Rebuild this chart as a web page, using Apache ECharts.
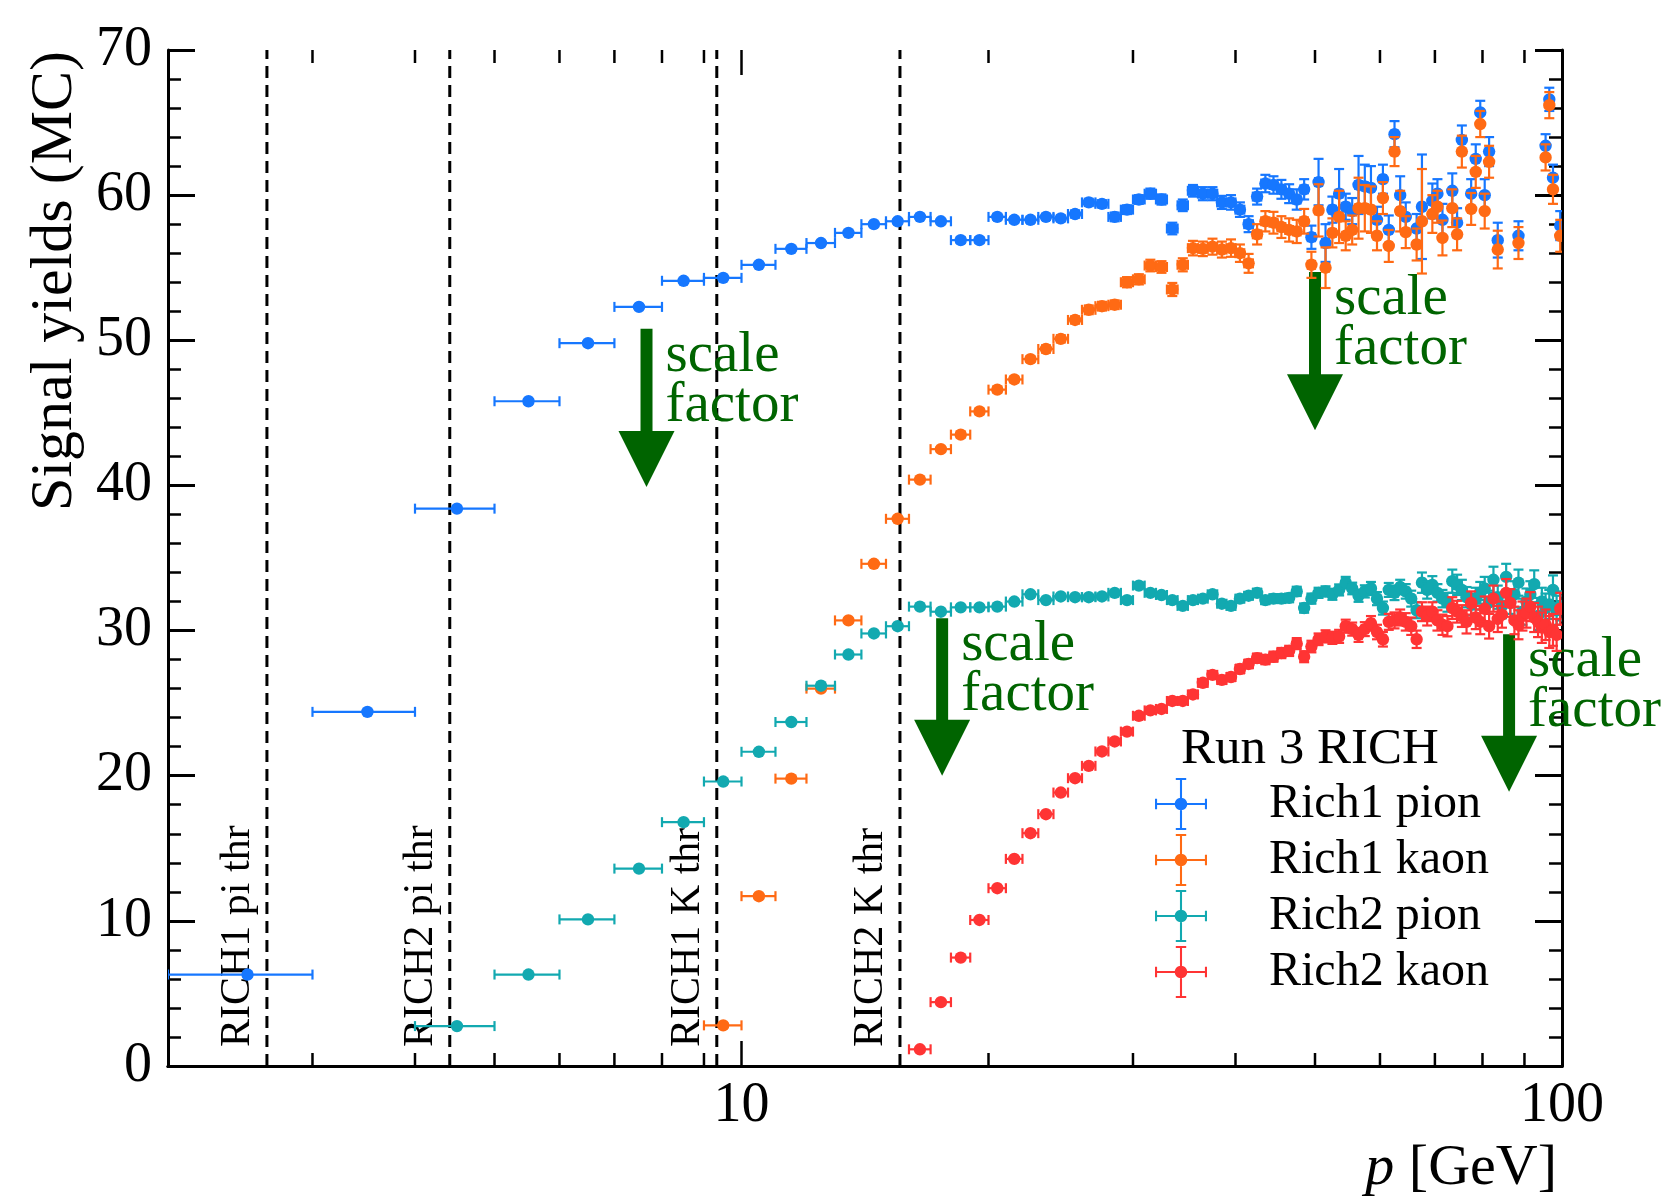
<!DOCTYPE html>
<html>
<head>
<meta charset="utf-8">
<title>Signal yields vs p</title>
<script src="https://cdn.jsdelivr.net/npm/echarts@6/dist/echarts.min.js"></script>
<style>
html, body { margin: 0; padding: 0; background: #fff; }
#main { width: 1666px; height: 1197px; }
</style>
</head>
<body>
<div id="main"></div>
<script>
const FONT = '"Liberation Serif", "DejaVu Serif", serif';
const GREEN = '#006400';
const binHalf = 0.5; // bins are 1 GeV wide

// [p centre, yield, error]
const rich1Pion = [[2.5,6.3,0.15],[3.5,24.4,0.15],[4.5,38.4,0.15],[5.5,45.8,0.15],[6.5,49.8,0.15],[7.5,52.3,0.15],[8.5,54.1,0.15],[9.5,54.3,0.15],[10.5,55.2,0.15],[11.5,56.3,0.15],[12.5,56.7,0.15],[13.5,57.4,0.15],[14.5,58.0,0.15],[15.5,58.2,0.15],[16.5,58.5,0.15],[17.5,58.2,0.15],[18.5,56.9,0.2],[19.5,56.9,0.2],[20.5,58.5,0.2],[21.5,58.3,0.2],[22.5,58.3,0.2],[23.5,58.5,0.2],[24.5,58.4,0.2],[25.5,58.7,0.25],[26.5,59.5,0.25],[27.5,59.4,0.25],[28.5,58.5,0.3],[29.5,59.0,0.3],[30.5,59.7,0.3],[31.5,60.1,0.35],[32.5,59.7,0.35],[33.5,57.7,0.4],[34.5,59.3,0.4],[35.5,60.3,0.4],[36.5,60.1,0.45],[37.5,60.1,0.45],[38.5,59.5,0.45],[39.5,59.5,0.5],[40.5,59.0,0.5],[41.5,58.0,0.55],[42.5,59.9,0.55],[43.5,60.8,0.6],[44.5,60.7,0.6],[45.5,60.4,0.65],[46.5,60.1,0.65],[47.5,59.7,0.7],[48.5,60.4,0.7],[49.5,57.1,0.8],[50.5,60.9,1.6],[51.5,56.7,1.3],[52.5,59.0,0.9],[53.5,60.1,1.7],[54.5,59.2,0.9],[55.5,58.9,0.9],[56.5,60.7,2.0],[57.5,60.6,1.5],[58.5,60.5,1.5],[59.5,58.3,0.9],[60.5,61.1,1.0],[61.5,57.6,1.0],[62.5,64.2,0.9],[63.5,60.0,1.3],[64.5,58.5,1.0],[66.5,57.7,1.0],[67.5,59.2,3.6],[69.5,59.6,1.2],[70.5,60.1,1.0],[71.5,58.3,1.1],[73.5,60.3,1.2],[74.5,58.1,1.0],[75.5,63.8,1.0],[77.5,60.1,1.0],[78.5,62.5,1.0],[79.5,65.7,0.8],[80.5,60.0,1.1],[81.5,63.0,1.0],[83.5,56.9,1.2],[88.5,57.2,1.0],[95.5,63.4,0.8],[96.5,66.6,0.8],[97.5,61.2,0.9],[99.5,57.9,1.0]];

const rich1Kaon = [[9.5,2.8,0.15],[10.5,11.7,0.15],[11.5,19.8,0.15],[12.5,26.0,0.15],[13.5,30.7,0.15],[14.5,34.6,0.15],[15.5,37.7,0.15],[16.5,40.4,0.15],[17.5,42.5,0.15],[18.5,43.5,0.2],[19.5,45.1,0.2],[20.5,46.6,0.2],[21.5,47.3,0.2],[22.5,48.7,0.2],[23.5,49.4,0.25],[24.5,50.1,0.25],[25.5,51.4,0.25],[26.5,52.1,0.3],[27.5,52.35,0.3],[28.5,52.45,0.3],[29.5,54.0,0.35],[30.5,54.2,0.35],[31.5,55.15,0.4],[32.5,55.05,0.4],[33.5,53.5,0.45],[34.5,55.2,0.45],[35.5,56.35,0.5],[36.5,56.3,0.5],[37.5,56.45,0.55],[38.5,56.25,0.55],[39.5,56.35,0.6],[40.5,56.0,0.6],[41.5,55.3,0.65],[42.5,57.3,0.7],[43.5,58.2,0.7],[44.5,58.1,0.75],[45.5,57.8,0.75],[46.5,57.6,0.8],[47.5,57.5,0.8],[48.5,58.2,0.85],[49.5,55.2,0.9],[50.5,58.95,1.8],[51.5,55.0,1.4],[52.5,57.4,1.0],[53.5,58.5,1.8],[54.5,57.2,1.0],[55.5,57.6,1.0],[56.5,59.1,2.1],[57.5,59.1,1.6],[58.5,59.0,1.6],[59.5,57.2,1.0],[60.5,59.8,1.1],[61.5,56.5,1.1],[62.5,63.0,1.0],[63.5,58.9,1.4],[64.5,57.45,1.1],[66.5,56.6,1.1],[67.5,58.2,3.6],[69.5,58.7,1.3],[70.5,59.2,1.1],[71.5,57.05,1.2],[73.5,59.1,1.3],[74.5,57.3,1.1],[75.5,63.0,1.1],[77.5,59.05,1.1],[78.5,61.6,1.1],[79.5,64.9,0.9],[80.5,58.9,1.2],[81.5,62.3,1.1],[83.5,56.25,1.3],[88.5,56.7,1.1],[95.5,62.6,0.9],[96.5,66.2,0.9],[97.5,60.4,1.0],[99.5,57.2,1.1]];

const rich2Pion = [[4.5,2.75,0.1],[5.5,6.3,0.1],[6.5,10.1,0.1],[7.5,13.6,0.1],[8.5,16.8,0.1],[9.5,19.6,0.1],[10.5,21.65,0.1],[11.5,23.7,0.1],[12.5,26.2,0.1],[13.5,28.35,0.1],[14.5,29.8,0.1],[15.5,30.3,0.1],[16.5,31.65,0.1],[17.5,31.3,0.1],[18.5,31.6,0.12],[19.5,31.6,0.12],[20.5,31.65,0.12],[21.5,32.0,0.12],[22.5,32.5,0.12],[23.5,32.1,0.12],[24.5,32.35,0.15],[25.5,32.3,0.15],[26.5,32.3,0.15],[27.5,32.35,0.15],[28.5,32.6,0.15],[29.5,32.1,0.18],[30.5,33.1,0.18],[31.5,32.6,0.18],[32.5,32.45,0.2],[33.5,32.1,0.2],[34.5,31.7,0.2],[35.5,32.1,0.2],[36.5,32.2,0.22],[37.5,32.5,0.22],[38.5,31.85,0.22],[39.5,31.7,0.25],[40.5,32.2,0.25],[41.5,32.4,0.25],[42.5,32.6,0.28],[43.5,32.1,0.28],[44.5,32.2,0.3],[45.5,32.2,0.3],[46.5,32.25,0.3],[47.5,32.7,0.32],[48.5,31.55,0.32],[49.5,32.2,0.35],[50.5,32.6,0.35],[51.5,32.7,0.35],[52.5,32.5,0.38],[53.5,32.8,0.38],[54.5,33.3,0.4],[55.5,32.9,0.4],[56.5,32.4,0.42],[57.5,32.7,0.42],[58.5,32.9,0.45],[59.5,32.2,0.45],[60.5,31.55,0.45],[61.5,32.8,0.48],[62.5,32.6,0.5],[63.5,33.0,0.5],[64.5,32.7,0.5],[65.5,32.2,0.55],[66.5,31.4,0.55],[67.5,33.3,0.7],[68.5,32.8,0.6],[69.5,33.15,0.6],[70.5,32.6,0.6],[71.5,32.2,0.6],[72.5,31.95,0.65],[73.5,33.4,0.8],[74.5,33.15,0.7],[75.5,32.8,0.7],[76.5,32.3,0.7],[77.5,31.8,0.75],[78.5,32.2,0.75],[79.5,32.6,0.75],[80.5,32.9,0.8],[81.5,31.95,0.8],[82.5,33.5,0.9],[83.5,32.3,0.8],[84.5,31.7,0.85],[85.5,33.7,0.9],[86.5,32.0,0.85],[87.5,32.5,0.9],[88.5,33.3,0.9],[89.5,31.3,0.9],[90.5,32.0,0.9],[91.5,32.5,0.9],[92.5,33.2,0.95],[93.5,31.0,0.95],[94.5,32.0,0.95],[95.5,31.55,1.0],[96.5,31.8,1.0],[97.5,32.8,1.0],[98.5,31.4,1.0],[99.5,31.7,1.0]];

const rich2Kaon = [[16.5,1.15,0.1],[17.5,4.4,0.1],[18.5,7.47,0.1],[19.5,10.06,0.1],[20.5,12.25,0.1],[21.5,14.27,0.1],[22.5,16.04,0.12],[23.5,17.35,0.12],[24.5,18.84,0.12],[25.5,19.83,0.15],[26.5,20.68,0.15],[27.5,21.67,0.15],[28.5,22.36,0.18],[29.5,23.04,0.18],[30.5,24.13,0.2],[31.5,24.5,0.2],[32.5,24.6,0.2],[33.5,25.15,0.22],[34.5,25.15,0.22],[35.5,25.6,0.25],[36.5,26.4,0.25],[37.5,26.95,0.25],[38.5,26.6,0.28],[39.5,26.8,0.28],[40.5,27.35,0.3],[41.5,27.7,0.3],[42.5,28.1,0.32],[43.5,28.0,0.32],[44.5,28.2,0.35],[45.5,28.45,0.35],[46.5,28.6,0.35],[47.5,29.1,0.38],[48.5,28.2,0.38],[49.5,28.9,0.4],[50.5,29.4,0.4],[51.5,29.6,0.42],[52.5,29.5,0.42],[53.5,29.6,0.45],[54.5,30.3,0.45],[55.5,30.1,0.45],[56.5,29.7,0.48],[57.5,30.1,0.48],[58.5,30.5,0.5],[59.5,29.9,0.5],[60.5,29.4,0.5],[61.5,30.6,0.55],[62.5,30.7,0.55],[63.5,30.9,0.55],[64.5,30.6,0.6],[65.5,30.3,0.6],[66.5,29.4,0.6],[67.5,31.3,0.65],[68.5,31.0,0.65],[69.5,31.3,0.65],[70.5,30.7,0.7],[71.5,30.4,0.7],[72.5,30.3,0.7],[73.5,31.55,0.75],[74.5,31.3,0.75],[75.5,31.0,0.75],[76.5,30.6,0.8],[77.5,31.9,0.8],[78.5,30.9,0.8],[79.5,30.6,0.85],[80.5,31.5,0.85],[81.5,30.3,0.85],[82.5,32.2,0.9],[83.5,30.8,0.9],[84.5,31.1,0.9],[85.5,32.6,0.95],[86.5,31.9,0.95],[87.5,30.7,0.95],[88.5,30.4,1.0],[89.5,31.0,1.0],[90.5,31.2,1.0],[91.5,31.65,1.0],[92.5,30.9,1.0],[93.5,30.6,1.05],[94.5,30.2,1.05],[95.5,30.4,1.05],[96.5,29.9,1.1],[97.5,30.05,1.1],[98.5,29.7,1.1],[99.5,31.5,1.1]];

const seriesNames = ['Rich1 pion', 'Rich1 kaon', 'Rich2 pion', 'Rich2 kaon'];
const seriesColors = ['#1677ff', '#ff6a14', '#12a9b0', '#ff3434'];
const seriesData = [rich1Pion, rich1Kaon, rich2Pion, rich2Kaon];

// threshold lines
const thrP = [2.64, 4.41, 9.33, 15.6];
const thrLabels = ['RICH1 pi thr', 'RICH2 pi thr', 'RICH1 K thr', 'RICH2 K thr'];

// "scale factor" arrows: x position, top and tip (in yield units)
const arrowP = [7.66, 50.0, 17.56, 86.2];
const arrowTop = [50.8, 54.7, 30.85, 29.75];
const arrowTip = [39.9, 43.8, 20.0, 18.9];

const xMinorTicks = [3, 4, 5, 6, 7, 8, 9, 20, 30, 40, 50, 60, 70, 80, 90];
const xMajorTicks = [10];

// legend icon: marker with error cross
const ICON = 'path://M0,48H100V52H0Z M48,0H52V100H48Z M0,40H4V60H0Z M96,40H100V60H96Z M40,0H60V4H40Z M40,96H60V100H40Z ' +
  'M62,50C62,56.63 56.63,62 50,62C43.37,62 38,56.63 38,50C38,43.37 43.37,38 50,38C56.63,38 62,43.37 62,50Z';

function renderPoint(params, api) {
  const p = api.value(0), y = api.value(1), e = api.value(2);
  const c = api.coord([p, y]);
  const xl = api.coord([p - binHalf, y])[0];
  const xr = api.coord([p + binHalf, y])[0];
  const yt = api.coord([p, y + e])[1];
  const yb = api.coord([p, y - e])[1];
  const color = api.visual('color');
  const st = { stroke: color, lineWidth: 2.2 };
  const cap = 5;
  return {
    type: 'group',
    children: [
      { type: 'line', shape: { x1: xl, y1: c[1], x2: xr, y2: c[1] }, style: st },
      { type: 'line', shape: { x1: xl, y1: c[1] - cap, x2: xl, y2: c[1] + cap }, style: st },
      { type: 'line', shape: { x1: xr, y1: c[1] - cap, x2: xr, y2: c[1] + cap }, style: st },
      { type: 'line', shape: { x1: c[0], y1: yt, x2: c[0], y2: yb }, style: st },
      { type: 'line', shape: { x1: c[0] - cap, y1: yt, x2: c[0] + cap, y2: yt }, style: st },
      { type: 'line', shape: { x1: c[0] - cap, y1: yb, x2: c[0] + cap, y2: yb }, style: st },
      { type: 'circle', shape: { cx: c[0], cy: c[1], r: 6.2 }, style: { fill: color } }
    ]
  };
}

function xTickRenderer(len) {
  return function (params, api) {
    const v = api.value(0);
    const b = api.coord([v, 0]);
    const t = api.coord([v, 70]);
    const st = { stroke: '#000', lineWidth: 2.5 };
    return {
      type: 'group',
      children: [
        { type: 'line', shape: { x1: b[0], y1: b[1], x2: b[0], y2: b[1] - len }, style: st },
        { type: 'line', shape: { x1: t[0], y1: t[1], x2: t[0], y2: t[1] + len }, style: st }
      ]
    };
  };
}

function renderThreshold(params, api) {
  const p = api.value(0);
  const b = api.coord([p, 0]);
  const t = api.coord([p, 70]);
  return {
    type: 'group',
    children: [
      { type: 'line', shape: { x1: b[0], y1: b[1], x2: t[0], y2: t[1] },
        style: { stroke: '#000', lineWidth: 3, lineDash: [12, 7] } },
      { type: 'text', x: b[0] - 8, y: b[1] - 19, rotation: Math.PI / 2,
        style: { text: thrLabels[params.dataIndex], fontFamily: FONT, fontSize: 42, fill: '#000',
                 align: 'left', verticalAlign: 'bottom' } }
    ]
  };
}

function renderArrow(params, api) {
  const i = params.dataIndex;
  const p = api.value(0);
  const top = api.coord([p, arrowTop[i]]);
  const tip = api.coord([p, arrowTip[i]]);
  const x = top[0];
  const headBase = tip[1] - 56;
  return {
    type: 'group',
    children: [
      { type: 'rect', shape: { x: x - 6, y: top[1], width: 12, height: headBase - top[1] + 1 }, style: { fill: GREEN } },
      { type: 'polygon', shape: { points: [[x - 28, headBase], [x + 28, headBase], [x, tip[1]]] }, style: { fill: GREEN } },
      { type: 'text', x: x + 19, y: top[1] + 2,
        style: { text: 'scale\nfactor', fontFamily: FONT, fontSize: 57, lineHeight: 50, fill: GREEN,
                 align: 'left', verticalAlign: 'top' } }
    ]
  };
}

const chart = echarts.init(document.getElementById('main'));

const axisLineStyle = { show: true, lineStyle: { color: '#000', width: 3 } };

const dataSeries = seriesData.map((d, k) => ({
  type: 'custom',
  name: seriesNames[k],
  renderItem: renderPoint,
  data: d,
  encode: { x: 0, y: 1 },
  itemStyle: { color: seriesColors[k] },
  clip: true,
  z: 5 + k
}));

chart.setOption({
  animation: false,
  backgroundColor: '#fff',
  grid: { left: 168, right: 104, top: 50, bottom: 131 },
  xAxis: [{
    type: 'log', logBase: 10, min: 2, max: 100, position: 'bottom',
    axisLine: axisLineStyle, axisTick: { show: false }, splitLine: { show: false },
    axisLabel: {
      color: '#000', fontFamily: FONT, fontSize: 56, margin: 12,
      formatter: function (v) {
        const l = Math.log10(v);
        return (Math.abs(l - Math.round(l)) < 1e-6 && v >= 10) ? String(Math.round(v)) : '';
      }
    }
  }, {
    type: 'log', logBase: 10, min: 2, max: 100, position: 'top',
    axisLine: axisLineStyle, axisTick: { show: false }, axisLabel: { show: false }, splitLine: { show: false }
  }],
  yAxis: [{
    type: 'value', min: 0, max: 70, interval: 10, position: 'left',
    axisLine: axisLineStyle,
    axisTick: { inside: true, length: 27, lineStyle: { color: '#000', width: 3 } },
    minorTick: { show: true, splitNumber: 5, length: 13, lineStyle: { color: '#000', width: 2.5 } },
    splitLine: { show: false },
    axisLabel: { color: '#000', fontFamily: FONT, fontSize: 56, margin: 16 }
  }, {
    type: 'value', min: 0, max: 70, interval: 10, position: 'right',
    axisLine: axisLineStyle,
    axisTick: { inside: true, length: 27, lineStyle: { color: '#000', width: 3 } },
    minorTick: { show: true, splitNumber: 5, length: 13, lineStyle: { color: '#000', width: 2.5 } },
    splitLine: { show: false },
    axisLabel: { show: false }
  }],
  legend: {
    orient: 'vertical', left: 1155, top: 778, padding: 0,
    itemWidth: 52, itemHeight: 52, itemGap: 4,
    icon: ICON,
    selectedMode: false,
    textStyle: { color: '#000', fontFamily: FONT, fontSize: 48, padding: [0, 0, 0, 57] },
    data: seriesNames
  },
  graphic: [
    { type: 'text', x: 55, y: 51, rotation: Math.PI / 2,
      style: { text: 'Signal yields (MC)', fontFamily: FONT, fontSize: 60, fill: '#000', align: 'right', verticalAlign: 'middle' } },
    { type: 'text', x: 1557, y: 1169,
      style: { text: '{i|p} [GeV]', fontFamily: FONT, fontSize: 58, fill: '#000', align: 'right', verticalAlign: 'middle',
               rich: { i: { fontStyle: 'italic', fontFamily: FONT, fontSize: 58, fill: '#000' } } } },
    { type: 'text', x: 1181, y: 750,
      style: { text: 'Run 3 RICH', fontFamily: FONT, fontSize: 51, fill: '#000', align: 'left', verticalAlign: 'middle' } }
  ],
  series: [
    { type: 'custom', name: 'minor ticks', renderItem: xTickRenderer(13), data: xMinorTicks.map(v => [v, 0]), encode: { x: 0, y: 1 }, z: 1, silent: true },
    { type: 'custom', name: 'major ticks', renderItem: xTickRenderer(25), data: xMajorTicks.map(v => [v, 0]), encode: { x: 0, y: 1 }, z: 1, silent: true },
    { type: 'custom', name: 'thresholds', renderItem: renderThreshold, data: thrP.map(v => [v, 0]), encode: { x: 0, y: 1 }, z: 2, silent: true },
    { type: 'custom', name: 'arrows', renderItem: renderArrow, data: arrowP.map((v, i) => [v, arrowTip[i]]), encode: { x: 0, y: 1 }, z: 3, silent: true }
  ].concat(dataSeries)
});

window.addEventListener('resize', function () {
  chart.resize();
});
</script>
</body>
</html>
